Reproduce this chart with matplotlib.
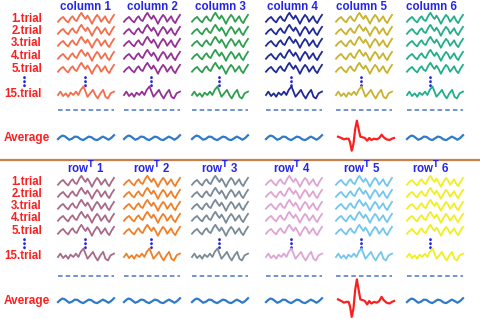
#!/usr/bin/env python
# -*- coding: utf-8 -*-
"""
Single-trial vs averaged responses for the six columns and six rows
of a speller matrix (trial stacks, then the average below).
"""
import matplotlib
matplotlib.use('Agg')
import matplotlib.pyplot as plt

plt.rcParams['font.family'] = ['Liberation Sans', 'DejaVu Sans']

# ---- data ----
col_labels = ['column 1', 'column 2', 'column 3', 'column 4', 'column 5', 'column 6']
row_labels = [r'row$^{\mathbf{T}}$ 1', r'row$^{\mathbf{T}}$ 2', r'row$^{\mathbf{T}}$ 3',
              r'row$^{\mathbf{T}}$ 4', r'row$^{\mathbf{T}}$ 5', r'row$^{\mathbf{T}}$ 6']
trial_labels = ['1.trial', '2.trial', '3.trial', '4.trial', '5.trial', '15.trial']

col_colors = ['#f26e4c', '#953196', '#2e9e4f', '#1f2a96', '#c9b22e', '#22ae8c']
row_colors = ['#a86a88', '#f07f28', '#7a8a96', '#dea4d4', '#72c6ee', '#f2ee22']

# single-trial waveform (trials 1-5), normalised
trial_t = [0.000, 0.042, 0.091, 0.139, 0.182, 0.224, 0.261, 0.297, 0.333, 0.382,
           0.418, 0.455, 0.491, 0.527, 0.564, 0.606, 0.648, 0.697, 0.733, 0.770,
           0.806, 0.842, 0.879, 0.915, 0.952, 1.000]
trial_wave = [-0.57, 0.00, 0.43, -0.29, -0.71, 0.14, 0.57, -0.14, -0.43, 0.71,
              1.29, 0.57, 0.00, 0.71, 0.00, -1.00, 0.00, 0.86, 0.36, -0.57,
              0.00, 0.57, -0.36, -0.86, 0.00, 0.86]

# 15th trial
trial15_t = [0.000, 0.042, 0.091, 0.139, 0.182, 0.224, 0.273, 0.321, 0.364, 0.406,
             0.455, 0.491, 0.527, 0.576, 0.624, 0.667, 0.709, 0.758, 0.806, 0.848,
             0.891, 0.939, 1.000]
trial15_wave = [-0.21, 0.50, -0.43, 0.14, -0.57, 0.29, -0.21, 0.50, -0.21, 0.86,
                1.57, 0.50, -0.57, 0.14, 0.86, -0.21, -0.93, 0.14, 0.86, -0.57,
                -0.93, 0.14, 0.50]

# averaged response without a target
avg_t = [0.00, 0.04, 0.08, 0.12, 0.16, 0.20, 0.25, 0.30, 0.35, 0.40, 0.45,
         0.50, 0.55, 0.60, 0.65, 0.70, 0.75, 0.80, 0.85, 0.90, 0.95, 1.00]
avg_wave = [-0.3, 0.3, 0.7, 0.5, 0.0, -0.5, -0.2, 0.4, 0.3, -0.3, -0.6,
            -0.1, 0.4, 0.2, -0.4, -0.6, -0.1, 0.4, 0.0, -0.5, 0.0, 0.8]

# averaged response of the target (P300), in px above baseline
p300_t = [0.000, 0.061, 0.104, 0.153, 0.190, 0.215, 0.245, 0.276, 0.307, 0.337,
          0.368, 0.399, 0.442, 0.479, 0.521, 0.558, 0.595, 0.644, 0.693, 0.736,
          0.779, 0.816, 0.865, 0.920, 0.963, 1.000]
p300_wave = [1.3, 0.0, -1.3, -0.7, -0.7, -4.3, -12.7, -6.0, 9.0, 17.3,
             9.0, 1.3, 0.7, 0.0, -2.7, 0.0, -2.0, -0.7, -1.3, 0.0,
             3.3, 0.7, -1.3, -2.0, -0.7, 0.0]
target_col = 4

# ---- layout (pixels) ----
W, H = 480, 319
col_left = [58, 124, 192, 266, 336, 407]
col_width = 56
col_center = [86, 152, 220, 292, 362, 431]
halves = [
    dict(labels=col_labels, colors=col_colors, head_y=7,
         rows_y=[19, 31, 43, 56, 69, 94], dots_y=(77, 86), dash_y=110, avg_y=138, p300_scale=1.0),
    dict(labels=row_labels, colors=row_colors, head_y=168,
         rows_y=[182, 194, 206, 218, 231, 256], dots_y=(239, 248), dash_y=276, avg_y=301, p300_scale=1.25),
]
RED = '#fa2020'
BLUE = '#2525e6'
AVG_BLUE = '#2f7acb'

fig = plt.figure(figsize=(W / 100, H / 100), dpi=100)
bg = fig.add_axes([0, 0, 1, 1])
bg.set_xlim(0, W)
bg.set_ylim(H, 0)
bg.axis('off')


def wave_axes(x0, width, y_base, ppu, ylo, yhi):
    # small axes whose data y-range (ylo..yhi) spans ppu pixels per unit
    top = y_base - yhi * ppu
    bottom = y_base - ylo * ppu
    ax = fig.add_axes([x0 / W, 1 - bottom / H, width / W, (bottom - top) / H])
    ax.set_xlim(0, 1)
    ax.set_ylim(ylo, yhi)
    ax.axis('off')
    return ax


def dots(x, ys):
    bg.plot([x, x], ys, color=BLUE, lw=2.0, ls=(0, (0.1, 1.35)), dash_capstyle='round')


for half in halves:
    # left labels
    for lab, y in zip(trial_labels, half['rows_y']):
        bg.text(42, y, lab, color=RED, fontsize=8.3, fontweight='bold', ha='right', va='center')
    dots(24, half['dots_y'])
    bg.text(27, half['avg_y'], 'Average', color=RED, fontsize=8.5, fontweight='bold',
            ha='center', va='center')

    for i in range(6):
        bg.text(col_center[i], half['head_y'], half['labels'][i], color=BLUE, fontsize=8.3,
                fontweight='bold', ha='center', va='center')
        for k, y in enumerate(half['rows_y']):
            ax = wave_axes(col_left[i], col_width, y, 4.8, -1, 1)
            if k == len(half['rows_y']) - 1:
                ax.plot(trial15_t, trial15_wave, color=half['colors'][i], lw=1.3,
                        solid_joinstyle='round', clip_on=False)
            else:
                ax.plot(trial_t, trial_wave, color=half['colors'][i], lw=1.3,
                        solid_joinstyle='round', clip_on=False)
        # dotted gap between trial 5 and trial 15
        dots(col_center[i] - 1, half['dots_y'])
        # dashed summation line
        bg.plot([col_left[i], col_left[i] + col_width], [half['dash_y']] * 2,
                color='#4a78c8', lw=1.1, ls=(0, (3, 2)))
        # average
        if i == target_col:
            s = half['p300_scale']
            ax = wave_axes(col_left[i] + 2, col_width, half['avg_y'], s, -14, 18)
            ax.plot(p300_t, p300_wave, color=RED, lw=1.6, solid_joinstyle='round', clip_on=False)
        else:
            ax = wave_axes(col_left[i], col_width, half['avg_y'], 3.5, -1, 1)
            ax.plot(avg_t, avg_wave, color=AVG_BLUE, lw=1.6, solid_joinstyle='round', clip_on=False)

# separator between the column and row halves
bg.plot([0, W], [160, 160], color='#c8804c', lw=1.6)

fig.savefig('out.png', dpi=100)
